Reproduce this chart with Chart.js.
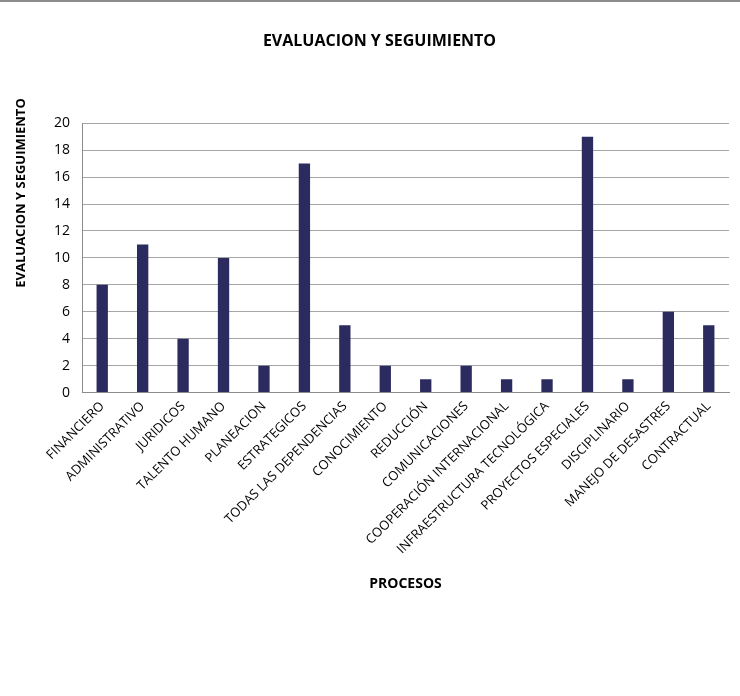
<!DOCTYPE html>
<html>
<head>
<meta charset="utf-8">
<script src="https://cdn.jsdelivr.net/npm/chart.js@4"></script>
<style>
  body { margin: 0; background: #fff; }
  #wrap { width: 740px; height: 696px; position: relative; box-sizing: border-box; border-top: 2px solid #8c8c8c; }
</style>
</head>
<body>
<div id="wrap"><canvas id="myChart" width="740" height="694"></canvas></div>
<script>
const categories = ['FINANCIERO', 'ADMINISTRATIVO', 'JURIDICOS', 'TALENTO HUMANO', 'PLANEACION',
    'ESTRATEGICOS', 'TODAS LAS DEPENDENCIAS', 'CONOCIMIENTO', 'REDUCCIÓN', 'COMUNICACIONES',
    'COOPERACIÓN INTERNACIONAL', 'INFRAESTRUCTURA TECNOLÓGICA', 'PROYECTOS ESPECIALES',
    'DISCIPLINARIO', 'MANEJO DE DESASTRES', 'CONTRACTUAL'];
const values = [8, 11, 4, 10, 2, 17, 5, 2, 1, 2, 1, 1, 19, 1, 6, 5];
const yTicks = [0, 2, 4, 6, 8, 10, 12, 14, 16, 18, 20];

const font = "'Open Sans', 'Liberation Sans', sans-serif";

// y axis title drawn a bit above the plot centre, like the original
const yTitle = {
    id: 'yTitle',
    afterDraw(chart) {
        const c = chart.ctx;
        c.save();
        c.translate(21, 191);
        c.rotate(-Math.PI / 2);
        c.font = 'bold 13px ' + font;
        c.fillStyle = '#000';
        c.textAlign = 'center';
        c.textBaseline = 'middle';
        c.fillText('EVALUACION Y SEGUIMIENTO', 0, 0);
        c.restore();
    }
};

const ctx = document.getElementById('myChart').getContext('2d');
const myChart = new Chart(ctx, {
    type: 'bar',
    data: {
        labels: categories,
        datasets: [{
            label: 'EVALUACION Y SEGUIMIENTO',
            data: values,
            backgroundColor: '#2b2b60',
            borderColor: '#2b2b60',
            borderWidth: 0,
            barPercentage: 0.28,
            categoryPercentage: 1.0
        }]
    },
    options: {
        responsive: false,
        animation: false,
        layout: { padding: { left: 30, right: 11, top: 0, bottom: 100 } },
        plugins: {
            legend: { display: false },
            tooltip: { enabled: false },
            title: {
                display: true,
                text: 'EVALUACION Y SEGUIMIENTO',
                color: '#000',
                font: { family: font, size: 16, weight: 'bold' },
                padding: { top: 30, bottom: 72 }
            }
        },
        scales: {
            x: {
                grid: { display: false, drawTicks: false },
                border: { color: '#8c8c8c' },
                ticks: {
                    color: '#000',
                    font: { family: font, size: 13 },
                    maxRotation: 45,
                    minRotation: 45,
                    autoSkip: false,
                    padding: 6
                },
                title: {
                    display: true,
                    text: 'PROCESOS',
                    color: '#000',
                    font: { family: font, size: 14, weight: 'bold' },
                    padding: { top: 12 }
                }
            },
            y: {
                min: 0,
                max: 20,
                afterBuildTicks(scale) {
                    scale.ticks = yTicks.map(v => ({ value: v }));
                },
                afterFit(scale) { scale.width = 52; },
                grid: { color: '#a6a6a6', drawTicks: false },
                border: { color: '#8c8c8c' },
                ticks: {
                    color: '#000',
                    font: { family: font, size: 14 },
                    padding: 12
                }
            }
        }
    },
    plugins: [yTitle]
});
</script>
</body>
</html>
